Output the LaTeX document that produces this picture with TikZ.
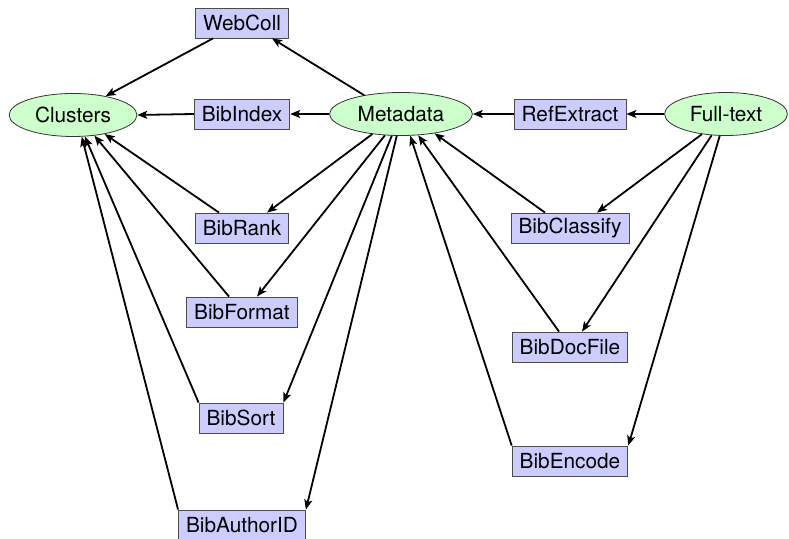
\documentclass[tikz,border=0pt]{standalone}
\usepackage{fontspec}
\setmainfont{TeX Gyre Heros}
\usetikzlibrary{shapes.geometric,arrows.meta}
\tikzset{
    mod/.style={draw=black!70, fill=blue!20, minimum height=15pt, inner xsep=3.8pt, inner ysep=0pt},
    store/.style={ellipse, draw=black!80, fill=green!20, minimum height=21.5pt, inner xsep=3.6pt, inner ysep=0pt},
    flow/.style={-{Stealth[length=5pt,width=4pt,inset=1.2pt]}, line width=0.9pt}
}
\begin{document}
\begin{tikzpicture}[x=0.5pt,y=-0.5pt,font=\fontsize{10.4pt}{12pt}\selectfont]
        \useasboundingbox (0,0) rectangle (789,539);
        \node[mod] (webcoll) at (242,23) {WebColl};
        \node[store] (clusters) at (73,115) {Clusters};
        \node[mod] (bibindex) at (242,114) {BibIndex};
        \node[store] (metadata) at (401,114) {Metadata};
        \node[mod] (refextract) at (570,114) {RefExtract};
        \node[store] (fulltext) at (726,114) {Full-text};
        \node[mod] (bibrank) at (242,228) {BibRank};
        \node[mod] (bibclassify) at (570,228) {BibClassify};
        \node[mod] (bibformat) at (242,312) {BibFormat};
        \node[mod] (bibdocfile) at (570,347) {BibDocFile};
        \node[mod] (bibsort) at (241,418) {BibSort};
        \node[mod] (bibencode) at (570,461) {BibEncode};
        \node[mod] (bibauthorid) at (242,525) {BibAuthorID};
        \draw[flow] ([xshift=-14.5pt]webcoll.south) -- (clusters.30);
        \draw[flow] (metadata.153) -- ([xshift=15pt]webcoll.south);
        \draw[flow] (metadata.west) -- (bibindex.east);
        \draw[flow] (bibindex.west) -- (clusters.east);
        \draw[flow] (refextract.west) -- (metadata.east);
        \draw[flow] (fulltext.west) -- (refextract.east);
        \draw[flow] (metadata.215) -- ([xshift=12.5pt]bibrank.north);
        \draw[flow] (metadata.233) -- ([xshift=7.5pt]bibformat.north);
        \draw[flow] (metadata.247) -- (bibsort.north east);
        \draw[flow] (metadata.259) -- (bibauthorid.north east);
        \draw[flow] ([xshift=-11.5pt]bibrank.north) -- (clusters.329);
        \draw[flow] ([xshift=-6.5pt]bibformat.north) -- (clusters.316);
        \draw[flow] (bibsort.north west) -- (clusters.299);
        \draw[flow] (bibauthorid.north west) -- (clusters.292);
        \draw[flow] (fulltext.220) -- ([xshift=13.5pt]bibclassify.north);
        \draw[flow] (fulltext.236) -- ([xshift=6pt]bibdocfile.north);
        \draw[flow] (fulltext.254) -- (bibencode.north east);
        \draw[flow] ([xshift=-12.5pt]bibclassify.north) -- (metadata.330);
        \draw[flow] ([xshift=-5.5pt]bibdocfile.north) -- (metadata.309);
        \draw[flow] (bibencode.north west) -- (metadata.293);
    \end{tikzpicture}
\end{document}
